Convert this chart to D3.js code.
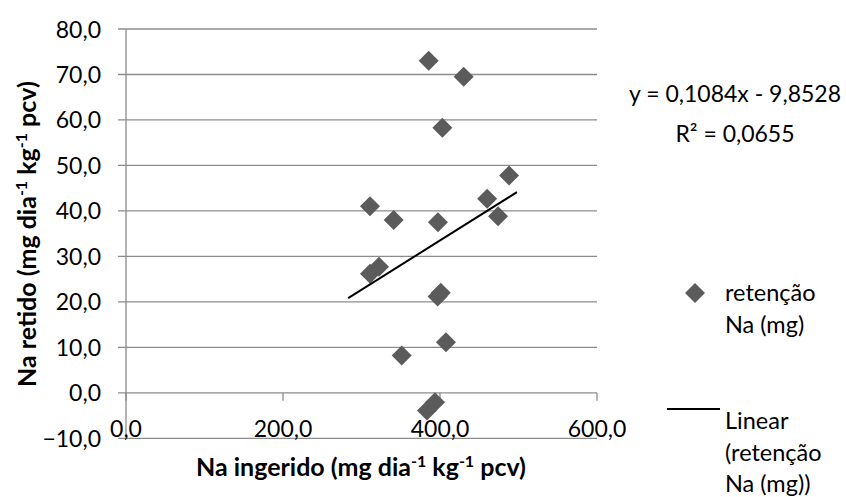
<!DOCTYPE html>
<html>
<head>
<meta charset="utf-8">
<script src="https://cdn.jsdelivr.net/npm/d3@7"></script>
<style>
  body { margin: 0; background: #fff; }
  text { font-family: Lato, "Open Sans", sans-serif; fill: #000; }
</style>
</head>
<body>
<svg id="chart" width="846" height="497"></svg>
<script>
// Na ingerido (x) vs Na retido (y)
const ingerido = [385.6, 430.2, 403.0, 488.0, 460.0, 474.0, 310.8, 341.0, 397.4,
  310.8, 322.3, 397.0, 401.0, 407.6, 351.2, 393.6, 383.4]
const retido = [73.0, 69.5, 58.3, 47.8, 42.7, 38.8, 41.0, 38.0, 37.5,
  26.2, 27.7, 21.2, 22.0, 11.1, 8.2, -2.1, -3.9]

const xTicks = [0, 200, 400, 600]
const yTicks = [-10, 0, 10, 20, 30, 40, 50, 60, 70, 80]

// linear trend y = a x + b, drawn over this x range
const trendCoef = [0.1084, -9.8528]
const trendRange = [283, 498]
const trendLabel = ['y = 0,1084x - 9,8528', 'R² = 0,0655']

const legendLabels = [['retenção', 'Na (mg)'], ['Linear', '(retenção', 'Na (mg))']]

const svg = d3.select('#chart')
const gridColor = '#8c8c8c'
const dotColor = '#5b5b5b'

const x = d3.scaleLinear().domain([0, 600]).range([126, 597])
const y = d3.scaleLinear().domain([-10, 80]).range([438.3, 29])

const locale = d3.formatLocale({decimal: ',', thousands: '.', grouping: [3], currency: ['', '']})
const fmt = locale.format('.1f')

// horizontal gridlines + y ticks
svg.append('g').selectAll('line')
  .data(yTicks)
  .enter()
  .append('line')
  .attr('x1', x(0) - 8)
  .attr('x2', x(600))
  .attr('y1', (d) => y(d))
  .attr('y2', (d) => y(d))
  .attr('stroke', gridColor)
  .attr('stroke-width', 1.3)

// vertical axis line
svg.append('line')
  .attr('x1', x(0)).attr('x2', x(0))
  .attr('y1', y(80)).attr('y2', y(-10))
  .attr('stroke', gridColor)
  .attr('stroke-width', 1.3)

// x tick marks hang below the zero line
svg.append('g').selectAll('line')
  .data(xTicks)
  .enter()
  .append('line')
  .attr('x1', (d) => x(d))
  .attr('x2', (d) => x(d))
  .attr('y1', y(0))
  .attr('y2', y(0) + 8)
  .attr('stroke', gridColor)
  .attr('stroke-width', 1.3)

svg.append('g').selectAll('text')
  .data(yTicks)
  .enter()
  .append('text')
  .attr('x', 101)
  .attr('y', (d) => y(d) + 8.5)
  .attr('text-anchor', 'end')
  .style('font-size', '23px')
  .text((d) => fmt(d))

svg.append('g').selectAll('text')
  .data(xTicks)
  .enter()
  .append('text')
  .attr('x', (d) => x(d))
  .attr('y', 437)
  .attr('text-anchor', 'middle')
  .style('font-size', '23px')
  .text((d) => fmt(d))

// axis titles with superscripts
function title (sel, first) {
  sel.style('font-size', '25px').style('font-weight', 'bold')
  sel.append('tspan').text(first + ' (mg dia')
  sel.append('tspan').attr('dy', -9).style('font-size', '16px').text('-1')
  sel.append('tspan').attr('dy', 9).text(' kg')
  sel.append('tspan').attr('dy', -9).style('font-size', '16px').text('-1')
  sel.append('tspan').attr('dy', 9).text(' pcv)')
}

svg.append('text')
  .attr('x', 361)
  .attr('y', 476)
  .attr('text-anchor', 'middle')
  .call(title, 'Na ingerido')

svg.append('text')
  .attr('transform', 'translate(36,234) rotate(-90)')
  .attr('text-anchor', 'middle')
  .call(title, 'Na retido')

// points
const diamond = d3.symbol().type(d3.symbolSquare).size(200)
svg.append('g').selectAll('path')
  .data(ingerido)
  .enter()
  .append('path')
  .attr('d', diamond)
  .attr('transform', (d, i) => `translate(${x(d)},${y(retido[i])}) rotate(45)`)
  .attr('fill', dotColor)

// trendline
svg.append('line')
  .attr('x1', x(trendRange[0]))
  .attr('x2', x(trendRange[1]))
  .attr('y1', y(trendCoef[0] * trendRange[0] + trendCoef[1]))
  .attr('y2', y(trendCoef[0] * trendRange[1] + trendCoef[1]))
  .attr('stroke', '#000')
  .attr('stroke-width', 2)

svg.append('g').selectAll('text')
  .data(trendLabel)
  .enter()
  .append('text')
  .attr('x', 735)
  .attr('y', (d, i) => 102 + i * 40)
  .attr('text-anchor', 'middle')
  .style('font-size', '23px')
  .text((d) => d)

// legend
const lg = svg.append('g')
lg.append('path')
  .attr('d', diamond)
  .attr('transform', 'translate(695,293) rotate(45)')
  .attr('fill', dotColor)
lg.append('line')
  .attr('x1', 667).attr('x2', 720)
  .attr('y1', 409).attr('y2', 409)
  .attr('stroke', '#000')
  .attr('stroke-width', 2)

const legendTop = [301, 429]
legendLabels.forEach((lines, k) => {
  lg.append('g').selectAll('text')
    .data(lines)
    .enter()
    .append('text')
    .attr('x', 725)
    .attr('y', (d, i) => legendTop[k] + i * 31.5)
    .style('font-size', '23.5px')
    .text((d) => d)
})
</script>
</body>
</html>
